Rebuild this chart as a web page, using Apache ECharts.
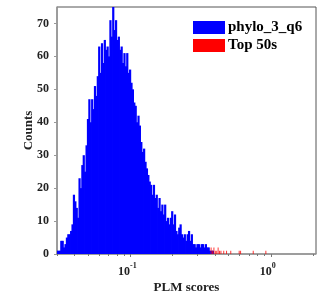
<!DOCTYPE html>
<html><head><meta charset="utf-8">
<script src="https://cdn.jsdelivr.net/npm/echarts@6/dist/echarts.min.js"></script>
<style>html,body{margin:0;padding:0;background:#fff}#c{width:332px;height:301px}</style>
</head><body><div id="c"></div>
<script>
// Histogram bins in log10(score) space
const binLogStart = -1.53;
const binLogStep = 0.01;
const allCounts = [
 1,1,1,4,4,2,3,5,6,6, 7,9,18,16,14,11,23,20,27,30,
 25,33,41,47,40,47,44,51,48,54, 63,55,64,58,65,62,63,60,71,66,
 76,68,71,65,66,62,63,58,61,57, 61,55,56,52,50,46,45,40,42,39,
 34,31,32,28,26,24,22,21,18,21, 17,18,14,17,13,15,12,15,10,11,
 9,11,13,9,12,7,6,8,9,6, 5,6,4,6,7,4,6,3,3,2,
 3,3,2,3,3,2,3,2,2,1, 1,1
];
const topStartIndex = 110;
const topCounts = [
 2,1,2,1,1,2,1,1,0,1, 0,1,0,0,1,0,0,0,0,0,
 1,1,0,0,0,0,0,0,0,0, 1,0,0,0,0,0,0,0,0,1
];
const xMin = 0.03, xMax = 2.1;
const yMax = 75;
const xTickValues = [0.03,0.04,0.05,0.06,0.07,0.08,0.09,0.1,0.2,0.3,0.4,0.5,0.6,0.7,0.8,0.9,1,2];
const xMajorValues = [0.1, 1];
const yTickValues = [0,10,20,30,40,50,60,70];
const seriesNames = ['phylo_3_q6', 'Top 50s'];
const seriesColors = ['#0000ff', '#ff0000'];

function toBins(counts, startIdx) {
  return counts.map((c, k) => {
    const i = startIdx + k;
    return [Math.pow(10, binLogStart + i * binLogStep), Math.pow(10, binLogStart + (i + 1) * binLogStep), c];
  }).filter(d => d[2] > 0);
}

function makeRender(color, frac, opacity, overlap) {
  return function (params, api) {
    const lo = api.value(0), hi = api.value(1), c = api.value(2);
    const p0 = api.coord([lo, c]);
    const p1 = api.coord([hi, 0]);
    const w = p1[0] - p0[0];
    const x = p0[0] + w * (1 - frac) / 2;
    return {
      type: 'rect',
      shape: { x: x, y: p0[1], width: w * frac + overlap, height: p1[1] - p0[1] },
      style: { fill: color, opacity: opacity }
    };
  };
}

const font = '"Liberation Serif", "DejaVu Serif", serif';
const chart = echarts.init(document.getElementById('c'), null, { renderer: 'canvas' });
chart.setOption({
  animation: false,
  backgroundColor: '#fff',
  grid: { left: 57, right: 16, top: 7, bottom: 47, show: true, borderColor: '#555', borderWidth: 1 },
  legend: {
    data: seriesNames.map((n, i) => ({ name: n, itemStyle: { color: seriesColors[i] } })),
    orient: 'vertical', left: 193, top: 20, padding: 0, itemWidth: 32, itemHeight: 13, itemGap: 3,
    icon: 'rect', textStyle: { fontFamily: font, fontWeight: 'bold', fontSize: 15, color: '#000', padding: [0,0,0,-2] },
    selectedMode: false
  },
  xAxis: [{
    type: 'log', logBase: 10, min: xMin, max: xMax,
    name: 'PLM scores', nameLocation: 'middle', nameGap: 27, nameMoveOverlap: false,
    nameTextStyle: { fontFamily: font, fontWeight: 'bold', fontSize: 13, color: '#222' },
    axisLine: { show: true, lineStyle: { color: '#999', width: 1.5 } },
    axisTick: { show: true, length: 2, lineStyle: { color: '#777' }, customValues: xTickValues },
    axisLabel: {
      customValues: xMajorValues, margin: 8, padding: [0, 6, 0, 0],
      formatter: v => (Math.abs(v - 0.1) < 1e-9 ? '{b|10}{s|-1}' : '{b|10}{s|0}'),
      rich: {
        b: { fontFamily: font, fontWeight: 'bold', fontSize: 12, color: '#222', verticalAlign: 'bottom' },
        s: { fontFamily: font, fontWeight: 'bold', fontSize: 8, color: '#222', verticalAlign: 'bottom', padding: [0, 0, 8, 0] }
      }
    },
    splitLine: { show: false }
  }, {
    type: 'log', logBase: 10, min: xMin, max: xMax, position: 'bottom',
    axisLine: { show: false },
    axisTick: { show: true, length: 3, lineStyle: { color: '#777' }, customValues: xMajorValues },
    axisLabel: { show: false }, splitLine: { show: false }
  }],
  yAxis: {
    type: 'value', min: 0, max: yMax, interval: 10,
    name: 'Counts', nameLocation: 'middle', nameGap: 22, nameMoveOverlap: false,
    nameTextStyle: { fontFamily: font, fontWeight: 'bold', fontSize: 13, color: '#222' },
    axisLine: { show: true, lineStyle: { color: '#999', width: 1.5 } },
    axisTick: { show: true, length: 3, lineStyle: { color: '#999' }, customValues: yTickValues },
    axisLabel: { customValues: yTickValues, margin: 8, fontFamily: font, fontWeight: 'bold', fontSize: 12, color: '#222' },
    splitLine: { show: false }
  },
  series: [{
    name: seriesNames[0], type: 'custom', xAxisIndex: 0, clip: true,
    itemStyle: { color: seriesColors[0] },
    encode: { x: [0, 1], y: 2 },
    renderItem: makeRender(seriesColors[0], 1, 1, 0.8),
    data: toBins(allCounts, 0)
  }, {
    name: seriesNames[1], type: 'custom', xAxisIndex: 0, clip: true,
    itemStyle: { color: seriesColors[1] },
    encode: { x: [0, 1], y: 2 },
    renderItem: makeRender(seriesColors[1], 0.7, 0.8, 0),
    data: toBins(topCounts, topStartIndex)
  }]
});
</script></body></html>
